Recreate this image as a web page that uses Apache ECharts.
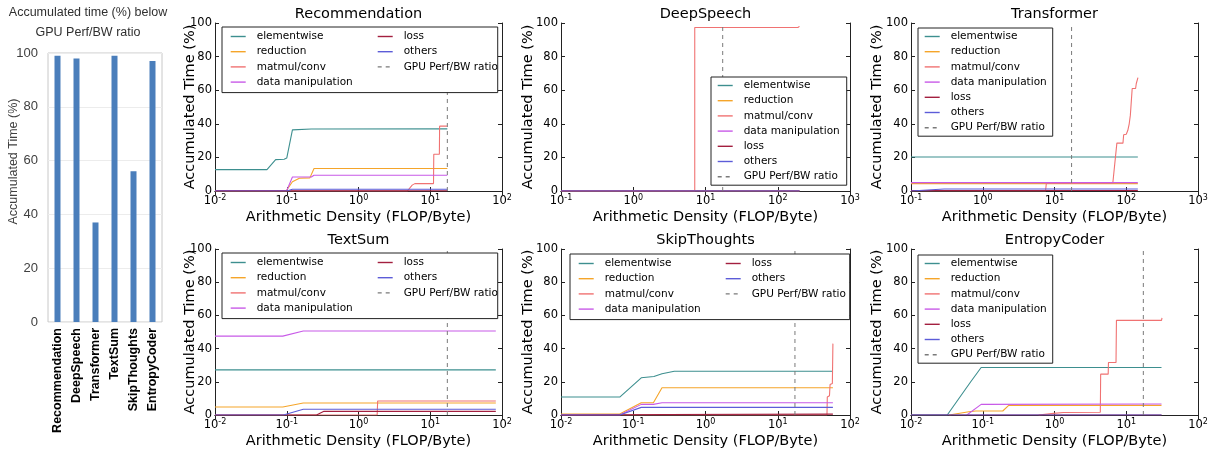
<!DOCTYPE html>
<html>
<head>
<meta charset="utf-8">
<script src="https://cdn.jsdelivr.net/npm/echarts@6/dist/echarts.min.js"></script>
<style>
  html, body { margin: 0; padding: 0; background: #fff; }
  #chart { width: 1217px; height: 450px; }
</style>
</head>
<body>
<div id="chart"></div>
<script>
// left bar chart
const barCategories = ['Recommendation', 'DeepSpeech', 'Transformer', 'TextSum', 'SkipThoughts', 'EntropyCoder'];
const barValues = [99, 98, 37, 99, 56, 97];

const seriesNames = ['elementwise', 'reduction', 'matmul/conv', 'data manipulation', 'loss', 'others'];
const ratioName = 'GPU Perf/BW ratio';
const gpuRatio = 17.3;

// Recommendation
const recElementwise = [[0.01, 12.7], [0.053, 12.7], [0.07, 18.7], [0.092, 18.9], [0.1, 19.6], [0.12, 36.4], [0.22, 36.9], [17.3, 37]];
const recReduction = [[0.01, 0], [0.098, 0], [0.12, 5.5], [0.15, 7.6], [0.21, 7.8], [0.24, 13.4], [17.3, 13.4]];
const recMatmul = [[0.01, 0], [4.8, 0], [5.0, 1], [5.6, 3.5], [6.1, 4.4], [11.1, 4.4], [11.2, 21.9], [13.4, 21.9], [13.5, 38.6], [17.1, 38.6]];
const recDataManip = [[0.01, 0.3], [0.1, 0.3], [0.12, 8.3], [0.22, 8.3], [0.24, 9.4], [17.3, 9.4]];
const recLoss = [[0.01, 0.1], [17.3, 0.1]];
const recOthers = [[0.01, 0], [0.1, 0], [0.12, 1], [17.3, 1]];

// DeepSpeech
const dsElementwise = [[0.1, 0], [200, 0]];
const dsReduction = [[0.1, 0], [200, 0]];
const dsMatmul = [[0.1, 0], [7.1, 0], [7.1, 97.3], [190, 97.3], [200, 98]];
const dsDataManip = [[0.1, 0], [200, 0]];
const dsLoss = [[0.1, 0], [200, 0]];
const dsOthers = [[0.1, 0], [200, 0]];

// Transformer
const trElementwise = [[0.1, 20.2], [145, 20.2]];
const trReduction = [[0.1, 4.4], [145, 4.4]];
const trMatmul = [[0.1, 0], [7.5, 0], [7.7, 4.6], [65, 4.8], [74, 28.5], [90, 28.5], [92, 33.5], [100, 33.8], [105, 36], [110, 40], [114, 45], [121, 61], [135, 61], [138, 64], [143, 64], [145.6, 67.5]];
const trDataManip = [[0.1, 5], [145, 5]];
const trLoss = [[0.1, 0.3], [145, 0.3]];
const trOthers = [[0.1, 0], [0.29, 1.2], [145, 1.2]];

// TextSum
const tsElementwise = [[0.01, 27.2], [82, 27.2]];
const tsReduction = [[0.01, 4.8], [0.088, 4.8], [0.17, 7.2], [82, 7.2]];
const tsMatmul = [[0.01, 0], [1.82, 0], [1.85, 8.4], [82, 8.4]];
const tsDataManip = [[0.01, 47.5], [0.088, 47.5], [0.17, 50.6], [82, 50.6]];
const tsLoss = [[0.01, 0], [0.26, 0], [0.33, 2.2], [82, 2.2]];
const tsOthers = [[0.01, 0], [0.09, 0], [0.17, 3.5], [82, 3.5]];

// SkipThoughts
const stElementwise = [[0.01, 10.8], [0.065, 10.8], [0.129, 22.4], [0.193, 23.2], [0.25, 24.8], [0.37, 26.4], [58, 26.4]];
const stReduction = [[0.01, 0.6], [0.065, 0.6], [0.129, 7.4], [0.19, 7.4], [0.25, 16.4], [58, 16.4]];
const stMatmul = [[0.01, 0], [48, 0], [48.5, 10.8], [52, 11.6], [53, 18.4], [57, 19], [58, 43]];
const stDataManip = [[0.01, 0], [0.065, 0], [0.129, 6.4], [0.19, 6.4], [0.25, 7.4], [58, 7.4]];
const stLoss = [[0.01, 0], [0.3, 0.3], [58, 0.5]];
const stOthers = [[0.01, 0], [0.065, 0], [0.129, 4.6], [58, 4.6]];

// EntropyCoder
const ecElementwise = [[0.01, 0], [0.032, 0], [0.068, 20], [0.095, 28.6], [31, 28.6]];
const ecReduction = [[0.034, 0], [0.064, 2], [0.08, 2.4], [0.19, 2.4], [0.23, 5.8], [31, 5.8]];
const ecMatmul = [[0.6, 0], [0.97, 1], [1.33, 1.5], [4.35, 1.7], [4.4, 24.6], [5.6, 24.6], [5.65, 31.6], [7.2, 31.6], [7.3, 57], [31, 57], [31.5, 58.5]];
const ecDataManip = [[0.06, 0], [0.095, 6.4], [31, 6.6]];
const ecLoss = [[0.01, 0], [31, 0]];
const ecOthers = [[0.01, 0], [31, 0]];

const plots = [
  { title: 'Recommendation', xMin: 0.01, xMax: 100, lines: [recElementwise, recReduction, recMatmul, recDataManip, recLoss, recOthers] },
  { title: 'DeepSpeech', xMin: 0.1, xMax: 1000, lines: [dsElementwise, dsReduction, dsMatmul, dsDataManip, dsLoss, dsOthers] },
  { title: 'Transformer', xMin: 0.1, xMax: 1000, lines: [trElementwise, trReduction, trMatmul, trDataManip, trLoss, trOthers] },
  { title: 'TextSum', xMin: 0.01, xMax: 100, lines: [tsElementwise, tsReduction, tsMatmul, tsDataManip, tsLoss, tsOthers] },
  { title: 'SkipThoughts', xMin: 0.01, xMax: 100, lines: [stElementwise, stReduction, stMatmul, stDataManip, stLoss, stOthers] },
  { title: 'EntropyCoder', xMin: 0.01, xMax: 100, lines: [ecElementwise, ecReduction, ecMatmul, ecDataManip, ecLoss, ecOthers] }
];

// layout
const colLeft = [215, 561, 911];
const colWidth = [287, 289, 287];
const rowTop = [23, 249];
const plotHeight = 168;
const yNameGap = [17, 25, 26];
// legend box: left, top, right, columns
const legendBox = [[222, 27, 497, 2], [711, 77, 846, 1], [918, 28, 1052, 1], [222, 253, 497, 2], [570, 254, 849, 2], [918, 255, 1052, 1]];

const lineColors = ['#3d8f8f', '#f5a52a', '#f07272', '#c85ae8', '#a31f3f', '#5c5cd8'];
const font = 'DejaVu Sans';

let charts = echarts.init(document.getElementById('chart'));

let grid = [{ left: 48, top: 53, width: 114, height: 269, show: true, borderColor: '#c8c8c8', borderWidth: 1 }];
let xAxis = [{
  type: 'category', gridIndex: 0, data: barCategories,
  axisLine: { show: false }, axisTick: { show: false },
  axisLabel: { rotate: 90, margin: 6, fontSize: 12.5, fontWeight: 'bold', color: '#000', fontFamily: 'Liberation Sans' }
}];
let yAxis = [{
  type: 'value', gridIndex: 0, min: 0, max: 100, interval: 20,
  name: 'Accumulated Time (%)', nameLocation: 'middle', nameGap: 28, nameMoveOverlap: false,
  nameTextStyle: { fontSize: 12.5, color: '#404040', fontFamily: 'Liberation Sans', padding: [0, 0, 0, 52] },
  axisLine: { show: false }, axisTick: { show: false },
  axisLabel: { fontSize: 13, color: '#404040', margin: 10, fontFamily: 'Liberation Sans' },
  splitLine: { lineStyle: { color: '#ececec' } }
}];
let title = [{
  text: 'Accumulated time (%) below\nGPU Perf/BW ratio', left: 88, top: 3, textAlign: 'center', padding: 0,
  textStyle: { fontSize: 12.5, fontWeight: 'normal', color: '#303030', lineHeight: 20, fontFamily: 'Liberation Sans' }
}];
let series = [{
  type: 'bar', xAxisIndex: 0, yAxisIndex: 0, data: barValues, barWidth: 6,
  itemStyle: { color: '#4a7ebb' }, silent: true
}];
let legend = [];

const axisLineStyle = { show: true, lineStyle: { color: '#222', width: 1 } };
const tickStyle = { show: true, inside: true, length: 4, lineStyle: { color: '#222' } };
const supLabel = v => '{b|10}{s|' + Math.round(Math.log10(v)) + '}';
const supRich = {
  b: { fontSize: 11.5, color: '#000', fontFamily: font, lineHeight: 15 },
  s: { fontSize: 8, color: '#000', fontFamily: font, verticalAlign: 'top' }
};

plots.forEach((p, k) => {
  const col = k % 3;
  const row = Math.floor(k / 3);
  const g = k + 1;
  const left = colLeft[col];
  const width = colWidth[col];
  const top = rowTop[row];
  grid.push({ left: left, top: top, width: width, height: plotHeight });
  title.push({
    text: p.title, left: left + width / 2, top: top - 16, textAlign: 'center', padding: 0,
    textStyle: { fontSize: 14.5, fontWeight: 'normal', color: '#000', fontFamily: font }
  });
  xAxis.push({
    type: 'log', logBase: 10, gridIndex: g, min: p.xMin, max: p.xMax, position: 'bottom',
    name: 'Arithmetic Density (FLOP/Byte)', nameLocation: 'middle', nameGap: 19, nameMoveOverlap: false,
    nameTextStyle: { fontSize: 14.5, color: '#000', fontFamily: font },
    axisLine: axisLineStyle, axisTick: tickStyle, splitLine: { show: false },
    axisLabel: { margin: 3, formatter: supLabel, rich: supRich, showMinLabel: true, showMaxLabel: true }
  });
  xAxis.push({
    type: 'log', logBase: 10, gridIndex: g, min: p.xMin, max: p.xMax, position: 'top',
    axisLine: axisLineStyle, axisTick: tickStyle, splitLine: { show: false }, axisLabel: { show: false }
  });
  yAxis.push({
    type: 'value', gridIndex: g, min: 0, max: 100, interval: 20, position: 'left',
    name: 'Accumulated Time (%)', nameLocation: 'middle', nameGap: yNameGap[col], nameMoveOverlap: false,
    nameTextStyle: { fontSize: 14.5, color: '#000', fontFamily: font },
    axisLine: axisLineStyle, axisTick: tickStyle, splitLine: { show: false },
    axisLabel: { fontSize: 11.5, color: '#000', margin: 3, fontFamily: font }
  });
  yAxis.push({
    type: 'value', gridIndex: g, min: 0, max: 100, interval: 20, position: 'right',
    axisLine: axisLineStyle, axisTick: tickStyle, splitLine: { show: false }, axisLabel: { show: false }
  });
  const xi = 1 + 2 * k;
  const yi = 1 + 2 * k;
  p.lines.forEach((d, j) => {
    series.push({
      type: 'line', name: seriesNames[j], xAxisIndex: xi, yAxisIndex: yi, data: d,
      symbol: 'none', showSymbol: false, silent: true,
      lineStyle: { color: lineColors[j], width: 1.1 }, itemStyle: { color: lineColors[j] }
    });
  });
  series.push({
    type: 'line', name: ratioName, xAxisIndex: xi, yAxisIndex: yi,
    data: [[gpuRatio, 0], [gpuRatio, 100]], symbol: 'none', showSymbol: false, silent: true,
    lineStyle: { color: '#7a7a7a', width: 1, type: [4, 4] }, itemStyle: { color: '#7a7a7a' }
  });

  const [bl, bt, br, cols] = legendBox[k];
  const base = {
    orient: 'vertical', itemWidth: 15, itemHeight: 10, itemGap: 4.2, selectedMode: false,
    itemStyle: { opacity: 0 }, lineStyle: { width: 1.4 },
    textStyle: { fontSize: 10.5, color: '#000', fontFamily: font, padding: [0, 0, 0, 6] }
  };
  const allNames = seriesNames.concat([ratioName]);
  if (cols === 1) {
    legend.push(Object.assign({}, base, {
      left: bl, top: bt, data: allNames, z: 5,
      padding: [3, br - (bl + 6 + 122), 3, 6],
      backgroundColor: '#fff', borderColor: '#222', borderWidth: 1
    }));
  } else {
    legend.push(Object.assign({}, base, {
      left: bl, top: bt, data: allNames.slice(0, 4), z: 5,
      padding: [4, br - (bl + 8 + 122), 5, 8],
      backgroundColor: '#fff', borderColor: '#222', borderWidth: 1
    }));
    legend.push(Object.assign({}, base, {
      left: bl + 155, top: bt + 4, data: allNames.slice(4), z: 6, padding: 0
    }));
  }
});

let options = {
  animation: false,
  backgroundColor: '#fff',
  title: title,
  legend: legend,
  grid: grid,
  xAxis: xAxis,
  yAxis: yAxis,
  series: series
};
charts.setOption(options);
</script>
</body>
</html>
